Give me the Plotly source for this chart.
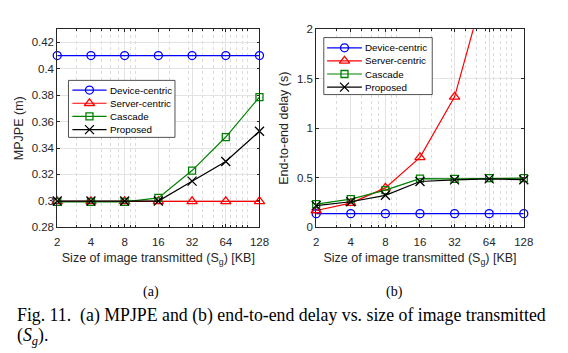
import math
import plotly.graph_objects as go

sizes = [2, 4, 8, 16, 32, 64, 128]
size_labels = ["2", "4", "8", "16", "32", "64", "128"]
series_names = ["Device-centric", "Server-centric", "Cascade", "Proposed"]

mpjpe_device = [0.410, 0.410, 0.410, 0.410, 0.410, 0.410, 0.410]
mpjpe_server = [0.2996, 0.2996, 0.2996, 0.2996, 0.2996, 0.2996, 0.2996]
mpjpe_cascade = [0.2992, 0.2992, 0.2992, 0.3022, 0.3229, 0.3483, 0.3786]
mpjpe_proposed = [0.2998, 0.2998, 0.2998, 0.2998, 0.3149, 0.3298, 0.3527]

delay_device = [0.137, 0.137, 0.137, 0.137, 0.137, 0.137, 0.137]
delay_server = [0.169, 0.244, 0.397, 0.705, 1.317, 2.58, 5.1]
delay_cascade = [0.234, 0.283, 0.374, 0.490, 0.488, 0.495, 0.495]
delay_proposed = [0.218, 0.257, 0.322, 0.462, 0.478, 0.488, 0.480]

colors = ["#0000FF", "#FF0000", "#008000", "#000000"]
symbols = ["circle-open", "triangle-up-open", "square-open", "x-thin-open"]
msizes = [8, 9, 7, 9]

W, H = 568, 353
PY0, PY1 = 24, 229          # plot area top / bottom in px
LX = (55.5, 262.5)          # left plot x extent in px
RX = (320.5, 533.0)         # right plot x extent in px
xr_log = [math.log10(2) - 1e-4, math.log10(128) + 1e-4]
yr_left = [0.28, 0.43]
yr_right = [0.0, 2.0]

fig = go.Figure()
shapes = []
annotations = []

def marker(i):
    return dict(symbol=symbols[i], size=msizes[i], color=colors[i],
                line=dict(color=colors[i], width=1.3))

left = [mpjpe_device, mpjpe_server, mpjpe_cascade, mpjpe_proposed]
right = [delay_device, delay_server, delay_cascade, delay_proposed]

for i, (name, ys) in enumerate(zip(series_names, left)):
    fig.add_trace(go.Scatter(
        x=sizes, y=ys, name=name, mode="lines+markers",
        line=dict(color=colors[i], width=1.2), marker=marker(i),
        xaxis="x", yaxis="y", cliponaxis=False))

for i, (name, ys) in enumerate(zip(series_names, right)):
    fig.add_trace(go.Scatter(
        x=sizes, y=ys, name=name, mode="lines",
        line=dict(color=colors[i], width=1.2),
        xaxis="x2", yaxis="y2", cliponaxis=True))
    fig.add_trace(go.Scatter(
        x=sizes, y=[v if v <= yr_right[1] else None for v in ys], mode="markers",
        marker=marker(i), xaxis="x2", yaxis="y2", showlegend=False,
        cliponaxis=False, hoverinfo="skip"))

def add_legend(xa, ya, xpx, yrange, box, rows, line_x, mark_x, text_x):
    d0, d1 = xpx
    def dx(p):
        f = (p - d0) / (d1 - d0)
        return 10 ** (xr_log[0] + f * (xr_log[1] - xr_log[0]))
    def dy(p):
        f = (PY1 - p) / (PY1 - PY0)
        return yrange[0] + f * (yrange[1] - yrange[0])
    l, t, r, b = box
    shapes.append(dict(type="rect", xref=xa, yref=ya, x0=dx(l), x1=dx(r),
                       y0=dy(b), y1=dy(t), fillcolor="white",
                       line=dict(color="#262626", width=0.8), layer="between"))
    for i, (name, ry) in enumerate(zip(series_names, rows)):
        shapes.append(dict(type="line", xref=xa, yref=ya, x0=dx(line_x[0]),
                           x1=dx(line_x[1]), y0=dy(ry), y1=dy(ry),
                           line=dict(color=colors[i], width=1.2), layer="between"))
        fig.add_trace(go.Scatter(x=[dx(mark_x)], y=[dy(ry)], mode="markers",
                                 marker=marker(i), xaxis=xa, yaxis=ya,
                                 showlegend=False, cliponaxis=False, hoverinfo="skip"))
        annotations.append(dict(text=name, xref="paper", yref="paper", x=text_x / W,
                                y=1 - ry / H, xanchor="left", yanchor="middle",
                                showarrow=False, borderpad=0,
                                font=dict(family="Liberation Sans, Arial", size=9.8,
                                          color="black")))

add_legend("x", "y", LX, yr_left, (67, 77, 176, 136), [87, 100.7, 114.3, 128],
           (71, 106), 88.5, 108.5)
add_legend("x2", "y2", RX, yr_right, (328.3, 32.7, 439.3, 91.7), [43.3, 56.8, 70.4, 84],
           (331.7, 367.3), 349.5, 369)

minor_vals = [3, 5, 6, 7, 9, 10, 20, 30, 40, 50, 60, 70, 80, 90, 100]
tick_font = dict(family="Liberation Sans, Arial", size=11.5, color="#262626")
title_font = dict(family="Liberation Sans, Arial", size=12.5, color="#262626")

xcommon = dict(
    type="log", range=xr_log, tickmode="array", tickvals=sizes,
    ticktext=size_labels, showgrid=True, gridcolor="#e3e3e3", gridwidth=1,
    showline=True, linecolor="#262626", linewidth=0.8, mirror="ticks",
    ticks="inside", ticklen=3, tickcolor="#262626", tickfont=tick_font,
    ticklabelstandoff=4,
    minor=dict(tickvals=minor_vals, showgrid=True, gridcolor="#dcdcdc",
               griddash="dot", ticks="inside", ticklen=2, tickcolor="#262626"),
    zeroline=False,
    title=dict(text="Size of image transmitted (S<sub>g</sub>) [KB]", font=title_font, standoff=6),
)
ycommon = dict(
    showgrid=True, gridcolor="#e3e3e3", gridwidth=1,
    showline=True, linecolor="#262626", linewidth=0.8, mirror="ticks",
    ticks="inside", ticklen=3, tickcolor="#262626", tickfont=tick_font,
    zeroline=False,
)

ydom = [1 - PY1 / H, 1 - PY0 / H]
fig.update_layout(
    width=W, height=H, margin=dict(l=0, r=0, t=0, b=0),
    plot_bgcolor="white", paper_bgcolor="white", showlegend=False,
    xaxis=dict(xcommon, domain=[LX[0] / W, LX[1] / W], anchor="y"),
    yaxis=dict(ycommon, domain=ydom, anchor="x", range=yr_left,
               tickmode="array", tickvals=[0.28, 0.30, 0.32, 0.34, 0.36, 0.38, 0.40, 0.42],
               ticktext=["0.28", "0.3", "0.32", "0.34", "0.36", "0.38", "0.4", "0.42"],
               title=dict(text="MPJPE (m)", font=title_font, standoff=5)),
    xaxis2=dict(xcommon, domain=[RX[0] / W, RX[1] / W], anchor="y2"),
    yaxis2=dict(ycommon, domain=ydom, anchor="x2", range=yr_right,
                tickmode="array", tickvals=[0, 0.5, 1, 1.5, 2],
                ticktext=["0", "0.5", "1", "1.5", "2"],
                title=dict(text="End-to-end delay (s)", font=title_font, standoff=5)),
    shapes=shapes,
)

serif = "Liberation Serif, Times New Roman"
for a in annotations:
    fig.add_annotation(**a)
fig.add_annotation(text="(a)", x=141.7 / W, y=1 - 296 / H, xref="paper", yref="paper",
                   yanchor="middle", showarrow=False,
                   font=dict(family=serif, size=14, color="black"))
fig.add_annotation(text="(b)", x=411.7 / W, y=1 - 296 / H, xref="paper", yref="paper",
                   yanchor="middle", showarrow=False,
                   font=dict(family=serif, size=14, color="black"))
fig.add_annotation(text="Fig. 11.&nbsp;&nbsp;(a) MPJPE and (b) end-to-end delay vs. size of image transmitted",
                   x=13 / W, y=1 - 320 / H, xref="paper", yref="paper", xanchor="left",
                   yanchor="middle", showarrow=False, borderpad=0,
                   font=dict(family=serif, size=17.8, color="black"))
fig.add_annotation(text="(<i>S</i><sub><i>g</i></sub>).",
                   x=13 / W, y=1 - 342 / H, xref="paper", yref="paper", xanchor="left",
                   yanchor="middle", showarrow=False, borderpad=0,
                   font=dict(family=serif, size=17.8, color="black"))

fig.write_html("out.html")
